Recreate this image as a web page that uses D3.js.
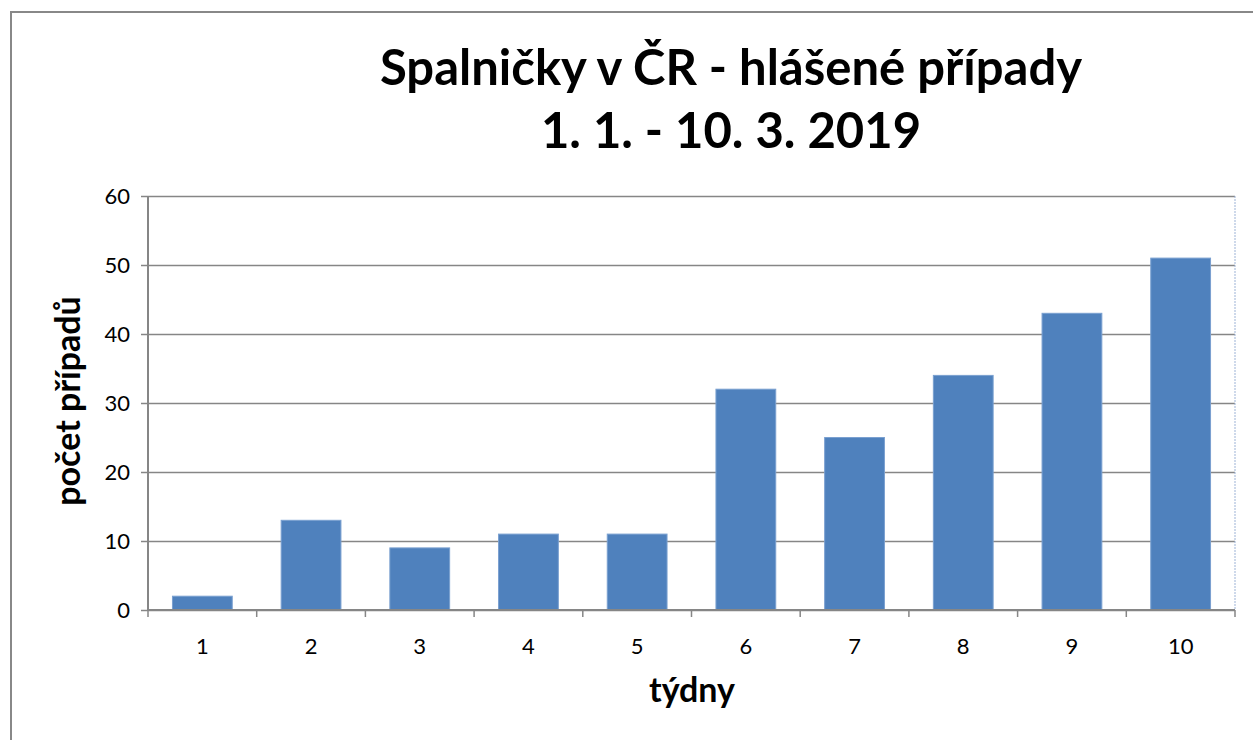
<!DOCTYPE html>
<html>
<head>
<meta charset="utf-8">
<script src="https://cdn.jsdelivr.net/npm/d3@7"></script>
<style>
  body { margin: 0; background: #fff; }
  svg { display: block; font-family: Lato, "Open Sans", sans-serif; }
  .tick text { font-size: 22px; fill: #000; }
</style>
</head>
<body>
<div id="chart"></div>
<script>
'use strict';

const weeks = ['1', '2', '3', '4', '5', '6', '7', '8', '9', '10'];
const cases = [2, 13, 9, 11, 11, 32, 25, 34, 43, 51];
const yTicks = [0, 10, 20, 30, 40, 50, 60];
const titleLines = ['Spalničky v ČR - hlášené případy', '1. 1. - 10. 3. 2019'];
const legendX = 'týdny';
const legendY = 'počet případů';

const W = 1253;
const H = 740;
const margin = { top: 196, right: 18, bottom: 130, left: 148 };
const width = W - margin.left - margin.right;
const height = H - margin.top - margin.bottom;

const svg = d3
  .select('#chart')
  .append('svg')
  .attr('width', W)
  .attr('height', H);

// outer chart frame
svg
  .append('rect')
  .attr('x', 11)
  .attr('y', 12)
  .attr('width', W + 20)
  .attr('height', H + 20)
  .attr('fill', 'none')
  .attr('stroke', '#888')
  .attr('stroke-width', 2);

const chart = svg
  .append('g')
  .attr('transform', `translate(${margin.left}, ${margin.top})`);

const xScale = d3
  .scaleBand()
  .range([0, width])
  .domain(weeks)
  .paddingInner(0.45)
  .paddingOuter(0.225);

const yScale = d3
  .scaleLinear()
  .range([height, 0])
  .domain([0, 60]);

// grid lines
chart
  .append('g')
  .attr('class', 'grid')
  .call(
    d3.axisLeft(yScale)
      .tickValues(yTicks)
      .tickSize(-width)
      .tickFormat(''),
  )
  .call(g => g.select('.domain').remove())
  .call(g => g.selectAll('line').attr('stroke', '#868686').attr('stroke-width', 1.5));

// plot area border (right side)
chart
  .append('line')
  .attr('x1', width)
  .attr('x2', width)
  .attr('y1', 0)
  .attr('y2', height)
  .attr('stroke', '#9db3d6')
  .attr('stroke-dasharray', '2,1');

chart
  .selectAll('.bar')
  .data(cases)
  .enter()
  .append('rect')
  .attr('class', 'bar')
  .attr('x', (d, i) => xScale(weeks[i]))
  .attr('y', d => yScale(d))
  .attr('width', xScale.bandwidth())
  .attr('height', d => height - yScale(d))
  .attr('fill', '#4f81bd')
  .attr('stroke', '#7aa0d0')
  .attr('stroke-width', 1);

// y axis
chart
  .append('g')
  .call(d3.axisLeft(yScale).tickValues(yTicks).tickSize(7).tickPadding(11))
  .attr('font-family', null)
  .attr('font-size', null)
  .call(g => g.select('.domain').attr('stroke', '#868686').attr('stroke-width', 2).attr('d', `M0,0V${height}`))
  .call(g => g.selectAll('.tick line').attr('stroke', '#868686').attr('stroke-width', 1.5))
  .call(g => g.selectAll('.tick text').attr('dy', '0.35em'));

// x axis with ticks between categories
const xAxis = chart
  .append('g')
  .attr('transform', `translate(0, ${height})`);

xAxis
  .append('line')
  .attr('x1', 0)
  .attr('x2', width)
  .attr('stroke', '#868686')
  .attr('stroke-width', 2);

const step = xScale.step();
xAxis
  .selectAll('.sep')
  .data(d3.range(weeks.length + 1))
  .enter()
  .append('line')
  .attr('x1', i => xScale(weeks[0]) - xScale.paddingOuter() * step + i * step)
  .attr('x2', i => xScale(weeks[0]) - xScale.paddingOuter() * step + i * step)
  .attr('y1', 0)
  .attr('y2', 7)
  .attr('stroke', '#868686')
  .attr('stroke-width', 1.5);

xAxis
  .selectAll('.lbl')
  .data(weeks)
  .enter()
  .append('text')
  .attr('x', d => xScale(d) + xScale.bandwidth() / 2)
  .attr('y', 44)
  .attr('text-anchor', 'middle')
  .attr('font-size', 22)
  .text(d => d);

// titles
svg
  .selectAll('.title')
  .data(titleLines)
  .enter()
  .append('text')
  .attr('class', 'title')
  .attr('x', 731)
  .attr('y', (d, i) => 85 + i * 63)
  .attr('text-anchor', 'middle')
  .attr('font-size', 49)
  .attr('font-weight', 'bold')
  .text(d => d);

svg
  .append('text')
  .attr('x', 692)
  .attr('y', 702)
  .attr('text-anchor', 'middle')
  .attr('font-size', 34)
  .attr('font-weight', 'bold')
  .text(legendX);

svg
  .append('text')
  .attr('transform', 'translate(80, 401) rotate(-90)')
  .attr('text-anchor', 'middle')
  .attr('font-size', 34)
  .attr('font-weight', 'bold')
  .text(legendY);
</script>
</body>
</html>
